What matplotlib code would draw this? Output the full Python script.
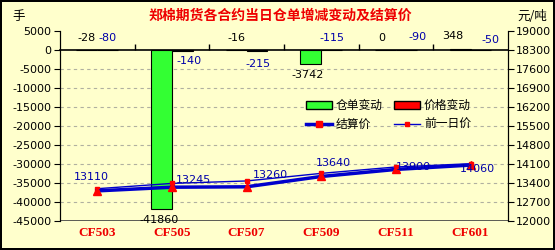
import numpy as np
import matplotlib.pyplot as plt
from matplotlib.patches import Patch
from matplotlib.lines import Line2D
from matplotlib.transforms import blended_transform_factory

plt.rcParams['font.family'] = ['DejaVu Sans']
plt.rcParams['axes.unicode_minus'] = False

# dane z wykresu
contracts = ['CF503', 'CF505', 'CF507', 'CF509', 'CF511', 'CF601']
receipt_change = [-28, -41860, -16, -3742, 0, 348]
price_change = [-80, -140, -215, -115, -90, -50]
settle_price = [13110, 13245, 13260, 13640, 13900, 14060]
prev_price = [13190, 13385, 13475, 13755, 13990, 14110]

# polozenie etykiet (uklad, nie dane)
rc_lbl_y = [3160, -44700, 3160, -6580, 3160, 3680]
rc_lbl_dx = [0, -0.03, 0, -0.04, -0.05, -0.1]
pc_lbl_y = [3160, -2900, -3680, 3160, 3400, 2630]
pc_lbl_dx = [0, 0.09, 0.02, 0, 0.15, 0.13]
sp_lbl_off = [(-6, 14), (22, 7), (24, 12), (12, 13), (18, 2), (7, -4)]

BG = '#FFFFCC'
CJK = ['Noto Sans CJK SC', 'DejaVu Sans']
NAVY = '#0000AA'

fig = plt.figure(figsize=(5.55, 2.5), dpi=100, facecolor=BG,
                 edgecolor='black', linewidth=1.5)
ax = fig.add_axes([0.108, 0.116, 0.807, 0.76])
ax.set_facecolor(BG)

x = np.arange(len(contracts))
w = 0.28
ax.bar(x - w / 2, receipt_change, w, color='#33FF33', edgecolor='black', linewidth=0.8, zorder=3)
ax.bar(x + w / 2, price_change, w, color='#FF0000', edgecolor='black', linewidth=0.8, zorder=3)

ax.set_xlim(-0.5, len(contracts) - 0.5)
ax.set_ylim(-45000, 5000)
ax.set_yticks(np.arange(-45000, 5001, 5000))
ax.set_yticklabels([str(v) for v in range(-45000, 5001, 5000)])
for v in range(-40000, 0, 5000):
    ax.axhline(v, color='#B0B0A0', ls=(0, (3, 3)), lw=0.8, zorder=1)
ax.axhline(-45000, color='#404040', lw=1.2, zorder=2)

# os x przechodzi przez 0
ax.spines['bottom'].set_position(('data', 0))
ax.spines['bottom'].set_linewidth(1.2)
ax.spines['top'].set_visible(False)
ax.set_xticks(np.arange(0.5, len(contracts) - 0.5, 1))
ax.set_xticklabels([])
ax.tick_params(axis='x', direction='in', length=4, width=1)
ax.tick_params(axis='y', direction='out', length=4, labelsize=8, pad=2)

trans = blended_transform_factory(ax.transData, ax.transAxes)
for i, c in enumerate(contracts):
    ax.text(i, -0.065, c, transform=trans, ha='center', va='center',
            color='#EE0000', fontsize=9.5, fontweight='bold', family='Liberation Serif')

for i in range(len(contracts)):
    ax.text(i - w / 2 + rc_lbl_dx[i], rc_lbl_y[i], str(receipt_change[i]),
            ha='center', va='center', fontsize=8, color='black', zorder=5)
    ax.text(i + w / 2 + pc_lbl_dx[i], pc_lbl_y[i], str(price_change[i]),
            ha='center', va='center', fontsize=8, color=NAVY, zorder=5)

ax2 = ax.twinx()
ax2.set_ylim(12000, 19000)
ax2.set_yticks(np.arange(12000, 19001, 700))
ax2.tick_params(axis='y', direction='out', length=4, labelsize=8, pad=2)
ax2.spines['top'].set_visible(False)
ax2.spines['bottom'].set_visible(False)

ax2.plot(x, prev_price, color='#0000CC', lw=1, marker='s', ms=2.5,
         mfc='#FF0000', mec='#FF0000', zorder=4)
ax2.plot(x, settle_price, color='#0000CC', lw=2.5, marker='^', ms=6,
         mfc='#FF0000', mec='#FF0000', zorder=5)
for i, v in enumerate(settle_price):
    ax2.annotate(str(v), (i, v), xytext=sp_lbl_off[i], textcoords='offset pixels',
                 ha='center', va='center', fontsize=8, color=NAVY, zorder=6)

handles = [Patch(facecolor='#33FF33', edgecolor='black', label='仓单变动'),
           Line2D([], [], color='#0000CC', lw=2.5, marker='s', ms=4, mfc='#FF0000', mec='#FF0000', label='结算价'),
           Patch(facecolor='#FF0000', edgecolor='black', label='价格变动'),
           Line2D([], [], color='#0000CC', lw=1, marker='s', ms=2.5, mfc='#FF0000', mec='#FF0000', label='前一日价')]
fig.legend(handles=handles, ncol=2, loc='center', bbox_to_anchor=(0.70, 0.54),
           frameon=False, prop={'family': CJK, 'size': 8.5}, handlelength=2.2,
           handletextpad=0.3, columnspacing=1.0, labelspacing=0.5)

fig.text(0.505, 0.935, '郑棉期货各合约当日仓单增减变动及结算价', ha='center', va='center',
         color='#EE0000', fontsize=10, fontweight='bold', family=CJK)
fig.text(0.022, 0.935, '手', ha='left', va='center', fontsize=9, family=CJK)
fig.text(0.96, 0.935, '元/吨', ha='center', va='center', fontsize=9, family=CJK)

fig.savefig('out.png', dpi=100, facecolor=BG, edgecolor=fig.get_edgecolor())
